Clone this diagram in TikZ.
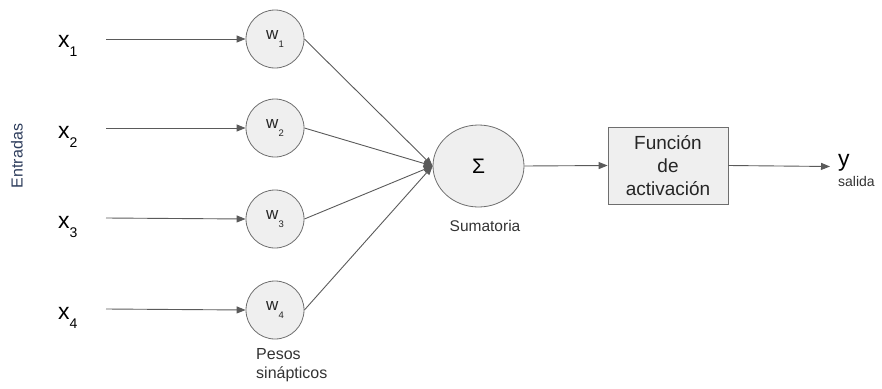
\documentclass[tikz,border=0pt]{standalone}
\usepackage{fontspec}
\setmainfont{Liberation Sans}
\usetikzlibrary{arrows.meta,shapes.geometric}
\definecolor{linegray}{HTML}{5A5A5A}
\definecolor{edgegray}{HTML}{6E6E6E}
\definecolor{fillgray}{HTML}{EFEFEF}
\definecolor{labelblue}{HTML}{2E3D5C}
% font size with a line spacing of 1.2 times the size
\newcommand{\fs}[1]{\fontsize{#1}{\fpeval{1.2*#1}}\selectfont}
\tikzset{
  conn/.style={draw=linegray, line width=0.9pt, -{Triangle[length=9pt,width=7pt]}},
  weight/.style={circle, draw=edgegray, fill=fillgray, line width=0.8pt, minimum size=58pt, inner sep=0pt, text=black!85},
  sumnode/.style={ellipse, draw=edgegray, fill=fillgray, line width=0.8pt, minimum width=91pt, minimum height=82pt, inner sep=0pt},
  actbox/.style={rectangle, draw=edgegray, fill=fillgray, line width=0.8pt, minimum width=120pt, minimum height=77pt, inner sep=0pt, align=center, font=\fs{19}, text=black!85},
  inlabel/.style={anchor=base west, font=\fs{23}, inner sep=0pt, text=black},
  note/.style={inner sep=0pt, font=\fs{15.5}, text=black!80},
}
\begin{document}
\begin{tikzpicture}[x=1pt,y=-1pt]
\useasboundingbox (0,0) rectangle (882,388);

% inputs
\foreach \i/\yy/\yb in {1/39/47,2/128/138,3/218/228,4/309/319}{
  \node[inlabel] (x\i) at (58,\yb) {x\raisebox{-9.5pt}{\fs{14}\i}};
  \coordinate (in\i) at (106,\yy);
}

% synaptic weights
\foreach \i/\yy in {1/39,2/128,3/219,4/310}{
  \node[weight] (w\i) at (275,\yy) {\fs{17}w\raisebox{-8pt}{\fs{9.5}\i}};
}

\foreach \i in {1,...,4}{
  \draw[conn] (in\i) -- (w\i.west);
}

% summation and activation
\node[sumnode] (sum) at (478.5,166) {\fs{21}Σ};
\node[actbox] (act) at (668,165.5) {Función\\de\\activación};
\coordinate (out) at (830,166.5);

\foreach \i in {1,...,4}{
  \draw[conn] (w\i.east) -- (sum.west);
}
\draw[conn] (sum.east) -- (act.west);
\draw[conn] (act.east) -- (out);

% labels
\node[inlabel] (ylab) at (838,166) {y};
\node[note, anchor=base west, font=\fs{14}] (salida) at (838,186) {salida};
\node[note] (sumlab) at (485,226) {Sumatoria};
\node[note, anchor=north west, align=left, font=\fs{16}] (pesos) at (256,348) {Pesos\\sinápticos};
\node[note, rotate=90, font=\fs{16}, text=labelblue] (entradas) at (17,156) {Entradas};
\end{tikzpicture}
\end{document}
